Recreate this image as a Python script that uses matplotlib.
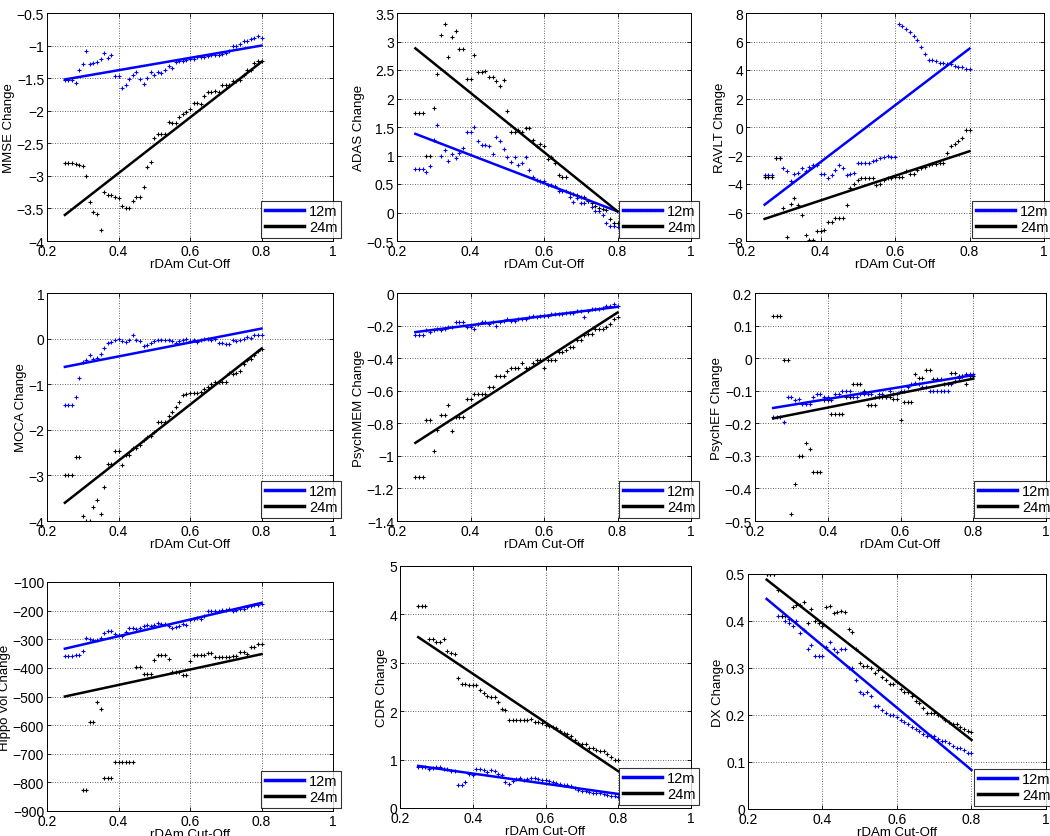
import numpy as np
import matplotlib
matplotlib.use("Agg")
import matplotlib.pyplot as plt
from matplotlib.lines import Line2D

plt.rcParams['font.family'] = ['Liberation Sans', 'DejaVu Sans']

# cut-off values (x axis)
cutoff = [round(0.25 + 0.01 * i, 2) for i in range(56)]
series_labels = ["12m", "24m"]

mmse_12 = [-1.53, -1.53, -1.53, -1.57, -1.38, -1.28, -1.08, -1.29, -1.27, -1.25, -1.20, -1.11, -1.19, -1.14,
           -1.47, -1.47, -1.65, -1.60, -1.51, -1.45, -1.41, -1.52, -1.59, -1.50, -1.41, -1.45, -1.41, -1.42,
           -1.37, -1.31, -1.34, -1.25, -1.24, -1.23, -1.22, -1.21, -1.20, -1.18, -1.18, -1.17, -1.16, -1.15,
           -1.14, -1.14, -1.13, -1.12, -1.08, -1.00, -1.00, -0.98, -0.93, -0.93, -0.90, -0.89, -0.86, -0.88]
mmse_24 = [-2.80, -2.80, -2.80, -2.82, -2.83, -2.85, -3.00, -3.40, -3.55, -3.58, -3.83, -3.25, -3.29, -3.30,
           -3.33, -3.34, -3.47, -3.49, -3.50, -3.38, -3.32, -3.32, -3.17, -2.87, -2.79, -2.42, -2.36, -2.36,
           -2.36, -2.18, -2.19, -2.19, -2.09, -2.05, -2.02, -1.97, -1.88, -1.88, -1.90, -1.77, -1.71, -1.71,
           -1.69, -1.71, -1.60, -1.60, -1.60, -1.54, -1.54, -1.53, -1.45, -1.37, -1.37, -1.27, -1.24, -1.24]
mmse_fit12 = [-1.52, -1.00]
mmse_fit24 = [-3.60, -1.25]

adas_12 = [0.77, 0.77, 0.77, 0.71, 0.81, 1.27, 1.54, 1.00, 1.10, 0.91, 1.03, 0.95, 1.04, 1.13,
           1.42, 1.42, 1.50, 1.25, 1.19, 1.19, 1.16, 1.03, 1.32, 1.26, 1.12, 0.98, 0.88, 0.98,
           0.84, 0.86, 0.97, 0.74, 0.63, 0.57, 0.55, 0.56, 0.48, 0.49, 0.47, 0.38, 0.38, 0.38,
           0.28, 0.18, 0.26, 0.17, 0.17, 0.20, 0.10, 0.02, 0.03, -0.05, -0.18, -0.23, -0.23, -0.25]
adas_24 = [1.75, 1.75, 1.75, 1.00, 1.00, 1.83, 2.43, 3.11, 3.30, 2.73, 3.08, 3.19, 2.87, 2.87,
           2.35, 2.35, 2.77, 2.47, 2.47, 2.49, 2.38, 2.38, 2.30, 2.22, 2.33, 1.78, 1.41, 1.41,
           1.45, 1.41, 1.48, 1.48, 1.27, 1.17, 1.21, 1.17, 0.93, 0.98, 0.87, 0.66, 0.63, 0.63,
           0.35, 0.33, 0.30, 0.28, 0.28, 0.20, 0.17, 0.12, 0.08, 0.07, 0.04, -0.11, -0.18, -0.18]
adas_fit12 = [1.38, 0.02]
adas_fit24 = [2.88, 0.02]

ravlt_12 = [-3.4, -3.4, -3.4, -2.2, -2.2, -2.9, -3.1, -3.8, -3.3, -3.2, -2.9, -3.1, -2.8, -2.7,
            -2.7, -3.3, -3.3, -3.6, -3.4, -3.0, -2.7, -2.9, -3.4, -3.3, -3.2, -2.5, -2.5, -2.5,
            -2.5, -2.4, -2.3, -2.2, -2.1, -2.0, -2.1, -2.1, 7.2, 7.1, 6.9, 6.7, 6.4, 6.1,
            5.6, 5.1, 4.7, 4.7, 4.6, 4.5, 4.5, 4.4, 4.4, 4.3, 4.2, 4.2, 4.1, 4.1]
ravlt_24 = [-3.5, -3.5, -3.5, -2.2, -2.2, -5.7, -7.7, -5.4, -5.0, -5.5, -6.2, -7.6, -7.9, -7.9,
            -7.3, -7.3, -7.2, -6.7, -6.7, -6.4, -6.4, -6.4, -5.5, -4.3, -4.0, -3.7, -3.6, -3.6,
            -3.6, -3.6, -4.1, -4.0, -3.7, -3.6, -3.6, -3.5, -3.5, -3.5, -3.1, -3.3, -3.3, -3.0,
            -2.9, -2.8, -2.7, -2.6, -2.6, -2.5, -2.5, -1.8, -1.3, -1.2, -1.0, -0.8, -0.2, -0.2]
ravlt_fit12 = [-5.45, 5.5]
ravlt_fit24 = [-6.45, -1.7]

moca_12 = [-1.45, -1.45, -1.45, -1.28, -0.87, -0.52, -0.47, -0.37, -0.45, -0.42, -0.34, -0.20, -0.10, -0.07,
           -0.03, 0.00, -0.05, -0.07, -0.02, 0.08, -0.02, -0.05, -0.16, -0.15, -0.10, -0.05, -0.03, -0.03,
           -0.03, -0.03, -0.05, -0.10, -0.05, -0.02, 0.00, -0.05, -0.03, -0.07, -0.03, 0.00, 0.00, -0.02,
           0.00, -0.10, -0.10, -0.12, -0.12, -0.03, -0.05, -0.03, 0.00, 0.03, 0.02, 0.07, 0.07, 0.07]
moca_24 = [-3.0, -3.0, -3.0, -2.6, -2.6, -3.9, -4.0, -4.0, -3.7, -3.55, -3.85, -3.25, -2.75, -2.75,
           -2.47, -2.47, -2.77, -2.55, -2.55, -2.40, -2.40, -2.33, -2.23, -2.15, -2.13, -2.05, -1.82, -1.82,
           -1.82, -1.70, -1.62, -1.50, -1.38, -1.23, -1.22, -1.19, -1.19, -1.19, -1.17, -1.10, -1.07, -1.00,
           -0.95, -0.95, -0.95, -0.95, -0.75, -0.77, -0.75, -0.70, -0.55, -0.48, -0.45, -0.35, -0.28, -0.23]
moca_fit12 = [-0.62, 0.22]
moca_fit24 = [-3.60, -0.22]

mem_12 = [-0.26, -0.26, -0.26, -0.23, -0.24, -0.23, -0.22, -0.23, -0.22, -0.21, -0.21, -0.18, -0.18, -0.18,
          -0.21, -0.21, -0.22, -0.19, -0.18, -0.18, -0.19, -0.18, -0.20, -0.18, -0.17, -0.16, -0.17, -0.17,
          -0.16, -0.16, -0.16, -0.15, -0.14, -0.15, -0.14, -0.14, -0.14, -0.13, -0.13, -0.13, -0.13, -0.12,
          -0.12, -0.12, -0.11, -0.11, -0.15, -0.11, -0.10, -0.10, -0.10, -0.09, -0.08, -0.08, -0.07, -0.08]
mem_24 = [-1.13, -1.13, -1.13, -0.78, -0.78, -0.97, -0.84, -0.75, -0.75, -0.69, -0.85, -0.76, -0.76, -0.76,
          -0.65, -0.65, -0.62, -0.62, -0.62, -0.62, -0.58, -0.58, -0.51, -0.51, -0.51, -0.48, -0.46, -0.46,
          -0.46, -0.43, -0.46, -0.46, -0.43, -0.41, -0.41, -0.46, -0.41, -0.41, -0.41, -0.36, -0.36, -0.35,
          -0.33, -0.33, -0.29, -0.29, -0.26, -0.25, -0.25, -0.22, -0.22, -0.22, -0.21, -0.19, -0.16, -0.15]
mem_fit12 = [-0.24, -0.085]
mem_fit24 = [-0.92, -0.12]

ef_12 = [-0.18, -0.18, -0.18, -0.195, -0.12, -0.12, -0.13, -0.125, -0.14, -0.14, -0.14, -0.12, -0.11, -0.11,
         -0.12, -0.12, -0.13, -0.11, -0.11, -0.10, -0.10, -0.10, -0.12, -0.12, -0.11, -0.11, -0.11, -0.11,
         -0.12, -0.11, -0.11, -0.12, -0.10, -0.11, -0.11, -0.10, -0.10, -0.09, -0.08, -0.075, -0.08, -0.09,
         -0.09, -0.10, -0.10, -0.10, -0.10, -0.10, -0.10, -0.08, -0.07, -0.06, -0.055, -0.05, -0.05, -0.05]
ef_24 = [0.13, 0.13, 0.13, -0.005, -0.005, -0.48, -0.385, -0.30, -0.30, -0.26, -0.28, -0.35, -0.35, -0.35,
         -0.13, -0.13, -0.17, -0.17, -0.17, -0.17, -0.12, -0.12, -0.08, -0.08, -0.08, -0.10, -0.145, -0.145,
         -0.145, -0.12, -0.12, -0.12, -0.12, -0.125, -0.125, -0.19, -0.135, -0.135, -0.135, -0.05, -0.06, -0.06,
         -0.035, -0.035, -0.065, -0.065, -0.065, -0.08, -0.08, -0.045, -0.045, -0.055, -0.055, -0.08, -0.055, -0.055]
ef_fit12 = [-0.153, -0.052]
ef_fit24 = [-0.185, -0.063]

hippo_12 = [-360, -360, -360, -355, -355, -340, -297, -300, -303, -303, -297, -278, -272, -272,
            -282, -285, -290, -275, -262, -262, -263, -262, -255, -250, -255, -250, -243, -248,
            -247, -253, -262, -257, -253, -248, -250, -232, -230, -225, -228, -220, -200, -200,
            -200, -202, -198, -198, -195, -200, -197, -193, -195, -188, -185, -182, -180, -178]
hippo_24 = [np.nan, np.nan, np.nan, np.nan, np.nan, -828, -828, -590, -590, -518, -545, -785, -785, -785,
            -728, -728, -728, -728, -728, -728, -398, -398, -420, -420, -420, -372, -355, -355,
            -355, -368, -415, -415, -415, -425, -425, -375, -355, -355, -355, -355, -348, -348,
            -362, -362, -362, -362, -362, -358, -358, -345, -345, -352, -328, -328, -318, -318]
hippo_fit12 = [-333, -173]
hippo_fit24 = [-500, -352]

cdr_12 = [0.85, 0.85, 0.85, 0.80, 0.82, 0.85, 0.84, 0.80, 0.80, 0.76, 0.76, 0.48, 0.48, 0.53,
          0.70, 0.68, 0.80, 0.80, 0.78, 0.75, 0.78, 0.76, 0.70, 0.68, 0.53, 0.50, 0.55, 0.60,
          0.62, 0.58, 0.60, 0.63, 0.62, 0.60, 0.58, 0.58, 0.55, 0.53, 0.52, 0.50, 0.48, 0.48,
          0.45, 0.42, 0.38, 0.36, 0.35, 0.33, 0.32, 0.31, 0.30, 0.28, 0.27, 0.25, 0.24, 0.23]
cdr_24 = [4.17, 4.17, 4.17, 3.50, 3.50, 3.44, 3.44, 3.50, 3.25, 3.20, 3.18, 2.68, 2.57, 2.57,
          2.55, 2.55, 2.55, 2.43, 2.38, 2.32, 2.30, 2.30, 2.18, 2.05, 2.02, 1.82, 1.82, 1.82,
          1.82, 1.82, 1.82, 1.84, 1.78, 1.78, 1.75, 1.72, 1.70, 1.67, 1.65, 1.60, 1.55, 1.53,
          1.48, 1.40, 1.35, 1.33, 1.33, 1.25, 1.25, 1.20, 1.17, 1.17, 1.12, 1.05, 1.00, 1.00]
cdr_fit12 = [0.87, 0.29]
cdr_fit24 = [3.53, 0.76]

dx_12 = [0.50, 0.50, 0.50, 0.41, 0.41, 0.40, 0.395, 0.39, 0.40, 0.375, 0.38, 0.34, 0.35, 0.325,
         0.325, 0.325, 0.345, 0.355, 0.34, 0.335, 0.34, 0.34, 0.30, 0.30, 0.275, 0.25, 0.245, 0.25,
         0.24, 0.22, 0.22, 0.21, 0.205, 0.20, 0.20, 0.195, 0.19, 0.185, 0.18, 0.175, 0.17, 0.165,
         0.16, 0.155, 0.155, 0.155, 0.15, 0.145, 0.145, 0.14, 0.135, 0.13, 0.13, 0.125, 0.12, 0.12]
dx_24 = [0.50, 0.50, 0.50, 0.467, 0.41, 0.41, 0.405, 0.43, 0.435, 0.435, 0.44, 0.395, 0.425, 0.40,
         0.395, 0.39, 0.43, 0.432, 0.418, 0.42, 0.422, 0.42, 0.383, 0.377, 0.34, 0.31, 0.305, 0.305,
         0.30, 0.29, 0.295, 0.28, 0.275, 0.265, 0.265, 0.27, 0.255, 0.25, 0.25, 0.24, 0.23, 0.225,
         0.215, 0.205, 0.205, 0.205, 0.20, 0.195, 0.19, 0.185, 0.18, 0.18, 0.175, 0.17, 0.165, 0.163]
dx_fit12 = [0.447, 0.083]
dx_fit24 = [0.488, 0.147]

fit_x = [0.25, 0.80]

ylabels = ["MMSE Change", "ADAS Change", "RAVLT Change",
           "MOCA Change", "PsychMEM Change", "PsychEF Change",
           "Hippo Vol Change", "CDR Change", "DX Change"]

panels = [
    (mmse_12, mmse_24, mmse_fit12, mmse_fit24, (-4, -0.5), np.arange(-4, -0.49, 0.5)),
    (adas_12, adas_24, adas_fit12, adas_fit24, (-0.5, 3.5), np.arange(-0.5, 3.51, 0.5)),
    (ravlt_12, ravlt_24, ravlt_fit12, ravlt_fit24, (-8, 8), np.arange(-8, 8.1, 2)),
    (moca_12, moca_24, moca_fit12, moca_fit24, (-4, 1), np.arange(-4, 1.1, 1)),
    (mem_12, mem_24, mem_fit12, mem_fit24, (-1.4, 0), np.arange(-1.4, 0.01, 0.2)),
    (ef_12, ef_24, ef_fit12, ef_fit24, (-0.5, 0.2), np.arange(-0.5, 0.21, 0.1)),
    (hippo_12, hippo_24, hippo_fit12, hippo_fit24, (-900, -100), np.arange(-900, -99, 100)),
    (cdr_12, cdr_24, cdr_fit12, cdr_fit24, (0, 5), np.arange(0, 5.1, 1)),
    (dx_12, dx_24, dx_fit12, dx_fit24, (0, 0.5), np.arange(0, 0.51, 0.1)),
]

# axes boxes in pixels: left, top, right, bottom
boxes = [
    (47, 14, 333, 242), (397, 14, 691, 242), (746, 14, 1044, 242),
    (47, 294, 333, 522), (397, 294, 691, 522), (755, 294, 1046, 522),
    (47, 583, 333, 812), (400, 567, 691, 809), (748, 575, 1046, 810),
]

W, H = 1050, 837
fig = plt.figure(figsize=(W / 100, H / 100), dpi=100)

BLUE = '#0000FF'
BLACK = '#000000'


def fmt(v):
    v = round(float(v), 6) + 0.0
    if abs(v) < 1e-9:
        v = 0.0
    s = '%g' % v
    return s.replace('-', '\u2212')


for i, (s12, s24, f12, f24, ylim, yticks) in enumerate(panels):
    l, t, r, b = boxes[i]
    ax = fig.add_axes([l / W, 1 - b / H, (r - l) / W, (b - t) / H])
    ax.plot(cutoff, s12, linestyle='none', marker='+', ms=2.6, mew=0.8, color=BLUE, zorder=3)
    ax.plot(cutoff, s24, linestyle='none', marker='+', ms=2.6, mew=0.8, color=BLACK, zorder=3)
    ax.plot(fit_x, f12, color=BLUE, lw=1.8, zorder=4)
    ax.plot(fit_x, f24, color=BLACK, lw=1.8, zorder=4)
    ax.set_xlim(0.2, 1.0)
    ax.set_ylim(*ylim)
    xt = [0.2, 0.4, 0.6, 0.8, 1.0]
    ax.set_xticks(xt)
    ax.set_xticklabels([fmt(v) for v in xt])
    ax.set_yticks(yticks)
    ax.set_yticklabels([fmt(v) for v in yticks])
    ax.grid(True, linestyle=(0, (1, 2)), color='black', lw=0.6, alpha=0.8)
    ax.tick_params(direction='in', length=3, width=0.6, top=True, right=True,
                   labelsize=10, pad=2)
    for sp in ax.spines.values():
        sp.set_linewidth(0.7)
    ax.set_xlabel("rDAm Cut-Off", fontsize=9.5, labelpad=0)
    ax.set_ylabel(ylabels[i], fontsize=9.5, labelpad=1)
    handles = [Line2D([], [], color=BLUE, lw=2.5), Line2D([], [], color=BLACK, lw=2.5)]
    w = (r - l)
    h = (b - t)
    leg = ax.legend(handles, series_labels, loc='lower right',
                    bbox_to_anchor=(1 + 8 / w, 3 / h), frameon=True, fancybox=False,
                    edgecolor='black', fontsize=10.5, handlelength=2.7, handletextpad=0.3,
                    borderpad=0.25, labelspacing=0.15, borderaxespad=0.0)
    leg.get_frame().set_linewidth(0.8)

fig.savefig("out.png", dpi=100)
